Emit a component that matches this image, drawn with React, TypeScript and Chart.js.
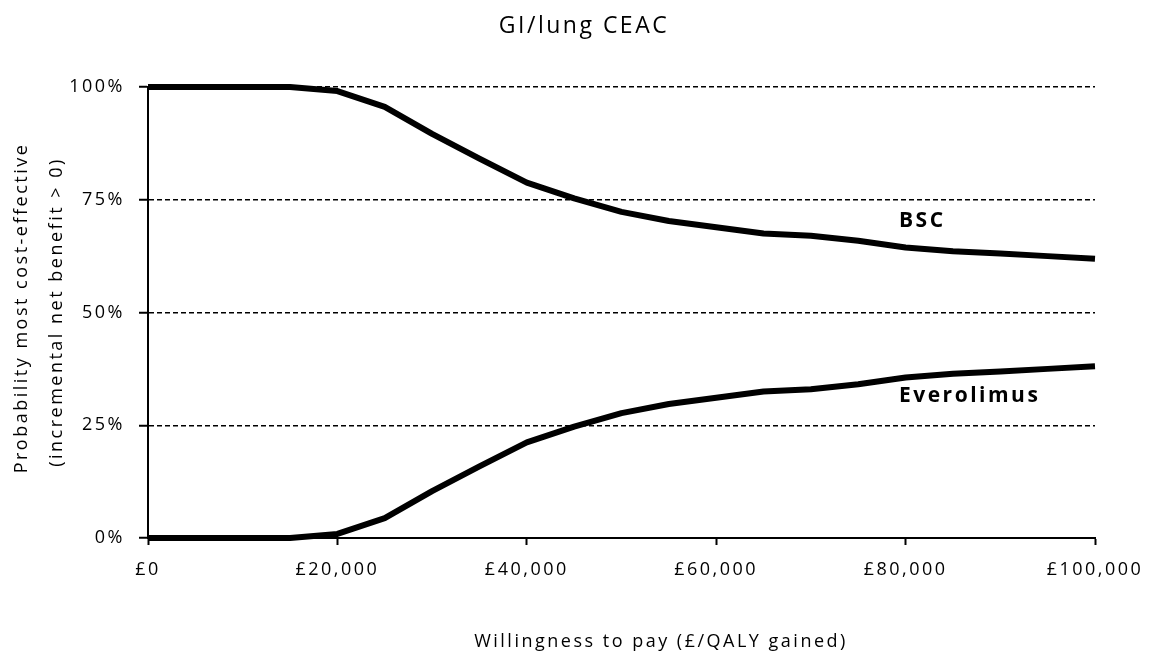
import React, { useEffect, useRef } from "react";
import { Chart, registerables } from "chart.js";

Chart.register(...registerables);

const chartTitle = "GI/lung CEAC";
const xAxisTitle = "Willingness to pay (£/QALY gained)";
const yAxisTitleLines = ["Probability most cost-effective", "(incremental net benefit > 0)"];
const seriesNames = ["BSC", "Everolimus"];

const wtp = [0, 5000, 10000, 15000, 20000, 25000, 30000, 35000, 40000, 45000, 50000, 55000, 60000, 65000, 70000, 75000, 80000, 85000, 90000, 95000, 100000];
const bsc = [100, 100, 100, 100, 99.1, 95.6, 89.6, 84.1, 78.8, 75.3, 72.3, 70.3, 68.9, 67.5, 67.0, 65.9, 64.4, 63.6, 63.1, 62.5, 61.9];
const everolimus = [0, 0, 0, 0, 0.9, 4.4, 10.4, 15.9, 21.2, 24.7, 27.7, 29.7, 31.1, 32.5, 33.0, 34.1, 35.6, 36.4, 36.9, 37.5, 38.1];

const yTicks = [0, 25, 50, 75, 100];
const xTickStep = 20000;

const FONT = '"Open Sans", "Noto Sans", sans-serif';
const SPACING = "2.5px";

const textPlugin = {
  id: "customTexts",
  beforeLayout(chart: any) {
    chart.ctx.letterSpacing = SPACING;
  },
  beforeDraw(chart: any) {
    chart.ctx.letterSpacing = SPACING;
  },
  afterDraw(chart: any) {
    const ctx = chart.ctx;
    ctx.save();
    ctx.letterSpacing = SPACING;
    ctx.fillStyle = "#000";
    ctx.textBaseline = "middle";
    ctx.textAlign = "center";
    ctx.font = `23px ${FONT}`;
    ctx.fillText(chartTitle, 584, 26);
    ctx.font = `18px ${FONT}`;
    ctx.fillText(xAxisTitle, 661, 642);
    ctx.save();
    ctx.translate(22, 308);
    ctx.rotate(-Math.PI / 2);
    ctx.fillText(yAxisTitleLines[0], 0, 0);
    ctx.restore();
    ctx.save();
    ctx.translate(57, 312);
    ctx.rotate(-Math.PI / 2);
    ctx.fillText(yAxisTitleLines[1], 0, 0);
    ctx.restore();
    ctx.font = `bold 21px ${FONT}`;
    ctx.textAlign = "left";
    ctx.fillText(seriesNames[0], 899, 221);
    ctx.fillText(seriesNames[1], 899, 396);
    ctx.restore();
  },
};

export default function App() {
  const canvasRef = useRef<HTMLCanvasElement | null>(null);

  useEffect(() => {
    if (!canvasRef.current) return;
    const chart = new Chart(canvasRef.current, {
      type: "line",
      data: {
        datasets: [
          {
            label: seriesNames[0],
            data: wtp.map((x, i) => ({ x, y: bsc[i] })),
            borderColor: "#000",
            borderWidth: 6,
            pointRadius: 0,
            tension: 0,
            borderJoinStyle: "round",
            clip: false,
          },
          {
            label: seriesNames[1],
            data: wtp.map((x, i) => ({ x, y: everolimus[i] })),
            borderColor: "#000",
            borderWidth: 6,
            pointRadius: 0,
            tension: 0,
            borderJoinStyle: "round",
            clip: false,
          },
        ],
      },
      options: {
        responsive: false,
        animation: false,
        devicePixelRatio: 1,
        layout: { padding: { top: 87, right: 58, bottom: 0, left: 0 } },
        plugins: {
          legend: { display: false },
          title: { display: false },
          tooltip: { enabled: false },
        },
        scales: {
          x: {
            type: "linear",
            min: 0,
            max: 100000,
            afterFit: (scale: any) => {
              scale.height = 121;
              scale.paddingLeft = 0;
              scale.paddingRight = 0;
            },
            ticks: {
              stepSize: xTickStep,
              color: "#000",
              padding: 14,
              maxRotation: 0,
              font: { family: FONT, size: 18 },
              callback: (v: any) => "£" + Number(v).toLocaleString("en-GB"),
            },
            grid: {
              drawOnChartArea: false,
              drawTicks: true,
              tickLength: 7,
              tickColor: "#000",
              tickWidth: 2,
            },
            border: { display: true, color: "#000", width: 2 },
          },
          y: {
            type: "linear",
            min: 0,
            max: 100,
            afterFit: (scale: any) => {
              scale.width = 148;
              scale.paddingTop = 0;
              scale.paddingBottom = 0;
            },
            afterBuildTicks: (scale: any) => {
              scale.ticks = yTicks.map((v) => ({ value: v }));
            },
            ticks: {
              color: "#000",
              padding: 14,
              font: { family: FONT, size: 18 },
              callback: (v: any) => v + "%",
            },
            grid: {
              color: "#000",
              lineWidth: 1.5,
              drawTicks: true,
              tickLength: 9,
              tickColor: "#000",
              tickWidth: 2,
              tickBorderDash: [],
            },
            border: { display: true, color: "#000", width: 2, dash: [5, 3] },
          },
        },
      },
      plugins: [textPlugin],
    } as any);
    return () => chart.destroy();
  }, []);

  return (
    <div style={{ position: "absolute", left: 0, top: 0, width: 1153, height: 659, background: "#fff" }}>
      <canvas ref={canvasRef} width={1153} height={659} style={{ display: "block" }} />
    </div>
  );
}
